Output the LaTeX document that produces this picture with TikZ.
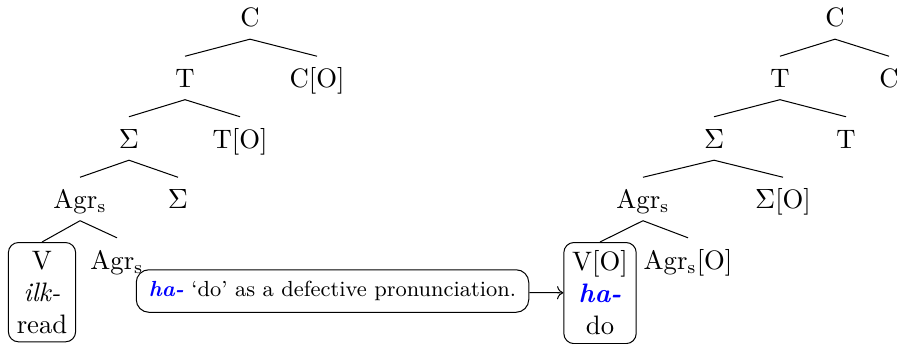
\documentclass[tikz,border=0pt]{standalone}
\usepackage{amsmath,amssymb}
\usepackage{xcolor}
\usepackage{tikz}
\usetikzlibrary{positioning,arrows.meta}
\newcommand{\hadef}{\textcolor{blue}{\textbf{\textit{ha-}}}}
\newcommand{\agrs}{Agr$_{\mathrm{s}}$}
\tikzset{
  lbl/.style={anchor=base, text height=7.9pt, text depth=.4pt, inner ysep=4.2pt, inner xsep=1pt},
  wbox/.style={draw, rounded corners=4pt, align=center, anchor=north, inner sep=3.3pt},
  note/.style={draw, rounded corners=5pt, font={\fontsize{8.6}{10.3}\selectfont}, inner xsep=5pt, inner ysep=4.5pt},
  br/.style={thin},
}
\begin{document}
\begin{tikzpicture}[font={\fontsize{10.5}{12.6}\selectfont}]
\useasboundingbox (0,0) rectangle (12.462,-4.744);
% before: V moves up with ilk-
\node[lbl] (c1) at (3.458,-0.373) {C};
\node[lbl] (t1) at (2.559,-1.210) {T};
\node[lbl] (co1) at (4.385,-1.210) {C[O]};
\node[lbl] (s1) at (1.784,-2.047) {$\Sigma$};
\node[lbl] (to1) at (3.320,-2.047) {T[O]};
\node[lbl] (a1) at (1.107,-2.884) {\agrs};
\node[lbl] (sg1) at (2.462,-2.884) {$\Sigma$};
\node[wbox] (v1) at (0.581,-3.347) {V\\\textit{ilk-}\\read};
\node[lbl] (ag1) at (1.618,-3.721) {\agrs};
\draw[br] (c1.south)--(t1.north); \draw[br] (c1.south)--(co1.north);
\draw[br] (t1.south)--(s1.north); \draw[br] (t1.south)--(to1.north);
\draw[br] (s1.south)--(a1.north); \draw[br] (s1.south)--(sg1.north);
\draw[br] (a1.south)--(v1.north); \draw[br] (a1.south)--(ag1.north);
% after: ha- with the [O] heads
\node[lbl] (c2) at (11.549,-0.373) {C};
\node[lbl] (t2) at (10.788,-1.210) {T};
\node[lbl] (co2) at (12.296,-1.210) {C};
\node[lbl] (s2) at (9.876,-2.047) {$\Sigma$};
\node[lbl] (to2) at (11.701,-2.047) {T};
\node[lbl] (a2) at (8.893,-2.884) {\agrs};
\node[lbl] (sg2) at (10.830,-2.884) {$\Sigma$[O]};
\node[wbox] (v2) at (8.299,-3.347) {V[O]\\\hadef\\do};
\node[lbl] (ag2) at (9.516,-3.721) {\agrs[O]};
\draw[br] (c2.south)--(t2.north); \draw[br] (c2.south)--(co2.north);
\draw[br] (t2.south)--(s2.north); \draw[br] (t2.south)--(to2.north);
\draw[br] (s2.south)--(a2.north); \draw[br] (s2.south)--(sg2.north);
\draw[br] (a2.south)--(v2.north); \draw[br] (a2.south)--(ag2.north);
% the note and its arrow
\node[note] (nt) at (4.599,-4.025) {\hadef{} `do' as a defective pronunciation.};
\draw[->] (nt)--(v2);
\end{tikzpicture}
\end{document}
